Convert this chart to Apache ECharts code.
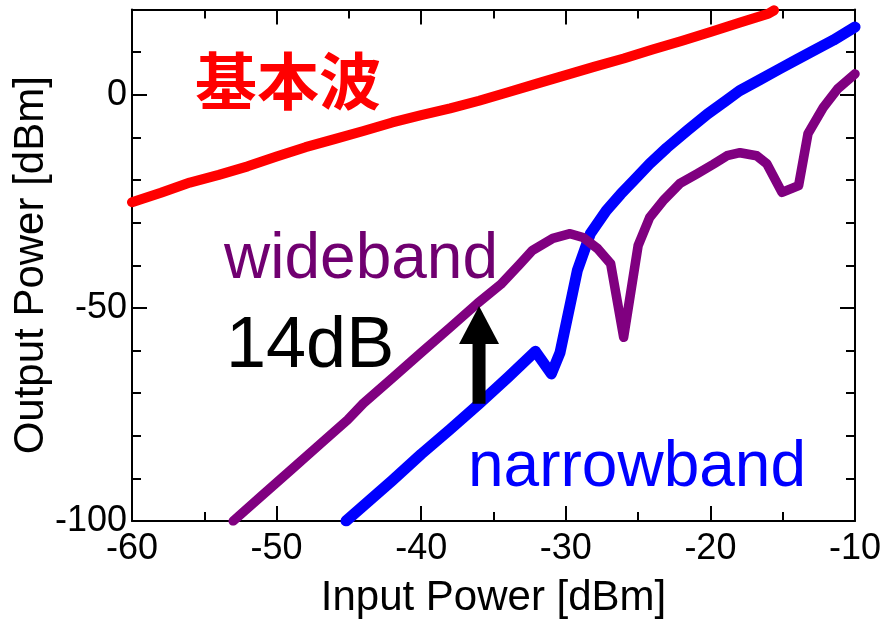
<!DOCTYPE html>
<html>
<head>
<meta charset="utf-8">
<script src="https://cdn.jsdelivr.net/npm/echarts@6/dist/echarts.min.js"></script>
<style>
html,body{margin:0;padding:0;background:#fff;}
#chart{width:889px;height:625px;}
</style>
</head>
<body>
<div id="chart"></div>
<script>
// ---- data ----
const xTicks = [-60, -50, -40, -30, -20, -10];
const yTicks = [-100, -50, 0];

const fundamentalX = [-60, -58, -56, -54, -52, -50, -48, -46, -44, -42, -40, -38, -36, -34, -32, -30, -28, -26, -24, -22, -20, -18, -16, -15.6];
const fundamentalY = [-25.2, -23, -20.6, -18.8, -16.8, -14.5, -12.3, -10.4, -8.5, -6.5, -4.8, -3.2, -1.4, 0.6, 2.6, 4.6, 6.6, 8.5, 10.6, 12.6, 14.7, 16.9, 19.0, 19.8];

const narrowX = [-45.2, -42, -40, -38, -36, -34, -32.1, -31, -30.4, -29.2, -28.3, -27.2, -26.2, -25.3, -24.2, -23, -21.6, -20.2, -19, -18, -16.6, -15.2, -14, -12.9, -11.5, -10];
const narrowY = [-100, -90.5, -84.3, -78.5, -72.5, -66.3, -60.2, -65.5, -60.5, -41.2, -32.6, -27.2, -23.3, -20.1, -16.2, -12.4, -8.4, -4.5, -1.6, 0.9, 3.5, 6.1, 8.3, 10.3, 12.8, 15.9];

const wideX = [-53, -51, -49, -47, -45.1, -44, -42, -40, -38, -36.1, -34.5, -33.2, -32.3, -30.9, -29.7, -28.8, -27.8, -26.9, -26, -25, -24.2, -23.2, -22.1, -20.9, -19.8, -18.85, -17.95, -16.8, -16.1, -15.05, -13.9, -13.25, -12.2, -11.2, -10];
const wideY = [-100, -94, -88, -82, -76.3, -72.4, -66.5, -60.5, -54.6, -48.9, -44.5, -39.8, -36.5, -33.7, -32.6, -33.5, -36.1, -39.6, -56.9, -35.4, -28.8, -24.6, -20.8, -18.5, -16.3, -14.3, -13.6, -14.3, -16.2, -22.9, -21.3, -9.1, -3.0, 1.4, 4.9];

// arrow marking the 14 dB difference
const arrowX = -36;
const arrowFrom = -72.5;
const arrowTo = -49.5;

const labels = {
  fundamental: '基本波',
  wide: 'wideband',
  narrow: 'narrowband',
  diff: '14dB',
  xName: 'Input Power [dBm]',
  yName: 'Output Power [dBm]'
};

// ---- build ----
const zip = (xs, ys) => xs.map((x, i) => [x, ys[i]]);
const FONT = '"Liberation Sans", Arial, Helvetica, sans-serif';

const chart = echarts.init(document.getElementById('chart'), null, {renderer: 'canvas'});

const axisLineStyle = {color: '#000', width: 2};
function xAxisCfg(pos, showLabels) {
  return {
    type: 'value', position: pos, min: -60, max: -10, interval: 10,
    axisLine: {show: true, onZero: false, lineStyle: axisLineStyle},
    axisTick: {show: true, inside: true, length: 15, lineStyle: {color: '#000', width: 2}},
    minorTick: {show: true, splitNumber: 2, length: 9, lineStyle: {color: '#000', width: 2}},
    splitLine: {show: false},
    axisLabel: {show: showLabels, color: '#000', fontSize: 36, fontFamily: FONT, margin: 10,
      formatter: v => xTicks.includes(v) ? String(v) : ''},
    name: showLabels ? labels.xName : '',
    nameLocation: 'middle', nameGap: 56, nameMoveOverlap: false,
    nameTextStyle: {color: '#000', fontSize: 42, fontFamily: FONT}
  };
}
function yAxisCfg(pos, showLabels) {
  return {
    type: 'value', position: pos, min: -100, max: 20, interval: 50,
    axisLine: {show: true, onZero: false, lineStyle: axisLineStyle},
    axisTick: {show: true, inside: true, length: 15, lineStyle: {color: '#000', width: 2}},
    minorTick: {show: true, splitNumber: 5, length: 9, lineStyle: {color: '#000', width: 2}},
    splitLine: {show: false},
    axisLabel: {show: showLabels, color: '#000', fontSize: 36, fontFamily: FONT, margin: 5,
      formatter: v => yTicks.includes(v) ? String(v) : ''},
    name: showLabels ? labels.yName : '',
    nameLocation: 'middle', nameGap: 80, nameMoveOverlap: false,
    nameTextStyle: {color: '#000', fontSize: 42, fontFamily: FONT}
  };
}

function lineSeries(name, data, color, width) {
  return {
    name, type: 'line', data, xAxisIndex: 0, yAxisIndex: 0,
    showSymbol: false, symbol: 'none', smooth: false,
    lineStyle: {color, width, cap: 'round', join: 'round'},
    silent: true, z: 3
  };
}

const option = {
  animation: false,
  backgroundColor: '#fff',
  grid: {left: 132, right: 34, top: 9.5, bottom: 104, containLabel: false, outerBoundsMode: 'none'},
  xAxis: [xAxisCfg('bottom', true), xAxisCfg('top', false)],
  yAxis: [yAxisCfg('left', true), yAxisCfg('right', false)],
  series: [
    lineSeries('fundamental', zip(fundamentalX, fundamentalY), '#ff0000', 10),
    lineSeries('narrowband', zip(narrowX, narrowY), '#0000ff', 11),
    lineSeries('wideband', zip(wideX, wideY), '#800080', 9.5),
    {
      type: 'line', data: [[arrowX, arrowFrom], [arrowX, arrowTo - 6]],
      showSymbol: false, symbol: 'none',
      lineStyle: {color: '#000', width: 13, cap: 'butt', opacity: 1}, z: 4, silent: true
    },
    {
      type: 'scatter', data: [[arrowX, arrowTo - 4.5]],
      symbol: 'triangle', symbolSize: [40, 38],
      itemStyle: {color: '#000', opacity: 1}, z: 4, silent: true
    }
  ],
  graphic: [
    {type: 'text', x: 195, y: 81, z: 10,
      style: {text: labels.fundamental, fill: '#ff0000', font: 'bold 62px "Noto Sans CJK JP", "Noto Sans CJK SC", sans-serif', verticalAlign: 'middle', align: 'left'}},
    {type: 'text', x: 224, y: 260, z: 10,
      style: {text: labels.wide, fill: '#700070', font: '64px ' + FONT, verticalAlign: 'middle', align: 'left'}},
    {type: 'text', x: 226, y: 347, z: 10,
      style: {text: labels.diff, fill: '#000', font: '72px ' + FONT, verticalAlign: 'middle', align: 'left'}},
    {type: 'text', x: 468, y: 468, z: 10,
      style: {text: labels.narrow, fill: '#0000ff', font: '64px ' + FONT, verticalAlign: 'middle', align: 'left'}}
  ]
};
chart.setOption(option);
</script>
</body>
</html>
